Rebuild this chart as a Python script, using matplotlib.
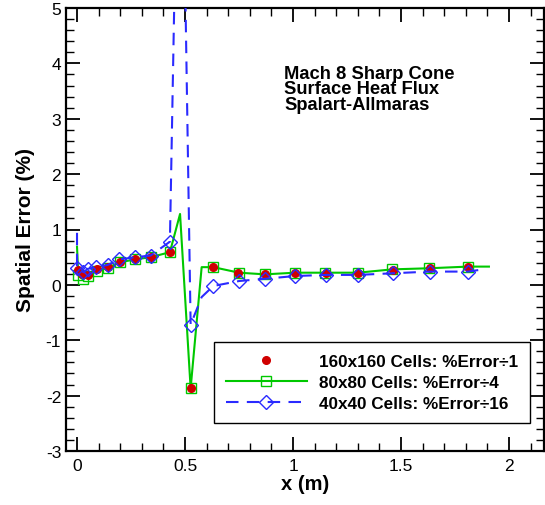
import numpy as np
import matplotlib
matplotlib.use('Agg')
import matplotlib.pyplot as plt
from matplotlib.ticker import MultipleLocator

plt.rcParams['font.family'] = ['Liberation Sans', 'DejaVu Sans']
plt.rcParams['axes.unicode_minus'] = False

# 160x160 cells (markers only)
fine_x = [0.006, 0.022, 0.052, 0.091, 0.144, 0.199, 0.269, 0.341, 0.43,
          0.526, 0.631, 0.747, 0.871, 1.009, 1.153, 1.302, 1.464, 1.634, 1.811]
fine_y = [0.26, 0.20, 0.17, 0.29, 0.33, 0.42, 0.47, 0.51, 0.59,
          -1.87, 0.32, 0.22, 0.19, 0.22, 0.22, 0.22, 0.27, 0.30, 0.32]

# 80x80 cells (line + square markers)
med_x = [0.0, 0.006, 0.027, 0.05, 0.091, 0.145, 0.2, 0.27, 0.341, 0.43, 0.477,
         0.526, 0.577, 0.631, 0.75, 0.87, 1.01, 1.15, 1.30, 1.46, 1.63, 1.81, 1.907]
med_y = [0.69, 0.17, 0.10, 0.16, 0.25, 0.31, 0.41, 0.46, 0.50, 0.59, 1.28,
         -1.87, 0.32, 0.32, 0.22, 0.19, 0.22, 0.22, 0.22, 0.28, 0.30, 0.33, 0.33]
med_marks = [1, 2, 3, 4, 5, 6, 7, 8, 9, 11, 13, 14, 15, 16, 17, 18, 19, 20, 21]

# 40x40 cells (dashed line + diamond markers)
coarse_x = [0.0, 0.0, 0.03, 0.05, 0.088, 0.142, 0.196, 0.269, 0.341, 0.43, 0.478,
            0.526, 0.577, 0.631, 0.751, 0.87, 1.009, 1.153, 1.30, 1.464, 1.634, 1.811, 1.88]
coarse_y = [0.94, 0.30, 0.23, 0.29, 0.32, 0.36, 0.46, 0.50, 0.53, 0.78, 11.0,
            -0.72, -0.22, -0.02, 0.07, 0.11, 0.16, 0.18, 0.18, 0.21, 0.24, 0.24, 0.28]
coarse_marks = [1, 2, 3, 4, 5, 6, 7, 8, 9, 11, 13, 14, 15, 16, 17, 18, 19, 20, 21]

red = '#d00000'
green = '#00c800'
blue = '#2a2aff'

fig = plt.figure(figsize=(5.45, 5.06), dpi=100)
ax = fig.add_axes([66 / 545, 1 - 452 / 506, 478 / 545, 443 / 506])

ax.plot(med_x, med_y, '-', color=green, lw=1.5, marker='s', ms=7.5,
        mfc='none', mec=green, mew=1.0, markevery=med_marks,
        label='80x80 Cells: %Error\u00f74', zorder=2)
ax.plot(fine_x, fine_y, 'o', color=red, ms=5.5, mec=red,
        label='160x160 Cells: %Error\u00f71', zorder=3)
ax.plot(coarse_x, coarse_y, '--', color=blue, lw=1.5, dashes=(6, 4),
        marker='D', ms=7, mfc='none', mec=blue, mew=1.0,
        markevery=coarse_marks, label='40x40 Cells: %Error\u00f716', zorder=4)

ax.set_xlim(-0.051, 2.162)
ax.set_ylim(-3, 5)
ax.xaxis.set_major_locator(MultipleLocator(0.5))
ax.xaxis.set_minor_locator(MultipleLocator(0.1))
ax.yaxis.set_major_locator(MultipleLocator(1))
ax.yaxis.set_minor_locator(MultipleLocator(0.2))
ax.set_xticks([0, 0.5, 1, 1.5, 2])
ax.set_xticklabels(['0', '0.5', '1', '1.5', '2'])
ax.tick_params(which='both', direction='in', top=True, right=True, labelsize=12.5)
ax.tick_params(which='major', length=10, width=1.3)
ax.tick_params(which='minor', length=6, width=1.0)
ax.tick_params(axis='x', pad=5)
for s in ax.spines.values():
    s.set_linewidth(1.6)

ax.set_xlabel('x (m)', fontsize=14.5, fontweight='bold', labelpad=1)
ax.set_ylabel('Spatial Error (%)', fontsize=15, fontweight='bold', labelpad=8)

ax.text(0.96, 3.97, 'Mach 8 Sharp Cone\nSurface Heat Flux\nSpalart-Allmaras',
        fontsize=13.2, fontweight='bold', va='top', ha='left', linespacing=0.88)

handles, labels = ax.get_legend_handles_labels()
order = [1, 0, 2]
leg = ax.legend([handles[i] for i in order], [labels[i] for i in order],
                loc='lower right', bbox_to_anchor=(464 / 478, (452 - 424) / 443),
                bbox_transform=ax.transAxes, borderaxespad=0,
                prop={'weight': 'bold', 'size': 12.3}, frameon=True,
                fancybox=False, framealpha=1, edgecolor='black',
                handlelength=4.7, handletextpad=0.7, borderpad=0.72,
                labelspacing=0.33, markerscale=1.0)
leg.get_frame().set_linewidth(1.0)

fig.savefig('out.png', dpi=100)
